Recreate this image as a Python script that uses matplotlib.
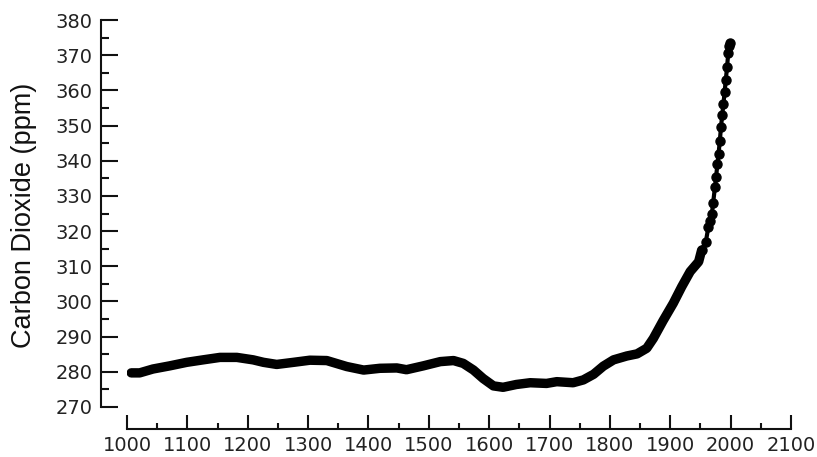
import matplotlib
matplotlib.use("Agg")
import matplotlib.pyplot as plt
from matplotlib.ticker import MultipleLocator

# Ice-core record, drawn as a continuous heavy band
ICE_YEARS = [1007, 1021, 1043, 1071, 1099, 1126, 1154, 1182, 1209, 1226,
             1248, 1276, 1303, 1331, 1364, 1392, 1419, 1447, 1463, 1491,
             1519, 1541, 1557, 1574, 1590, 1607, 1623, 1645, 1668, 1695,
             1712, 1739, 1756, 1773, 1789, 1806, 1828, 1845, 1861, 1872,
             1888, 1905, 1919, 1933, 1947, 1952]
ICE_CO2 = [279.7, 279.7, 280.8, 281.7, 282.7, 283.4, 284.1, 284.1, 283.4, 282.7,
           282.1, 282.7, 283.3, 283.2, 281.5, 280.5, 281.0, 281.1, 280.6, 281.7,
           282.9, 283.2, 282.4, 280.5, 278.1, 276.0, 275.6, 276.4, 276.9, 276.7,
           277.2, 276.9, 277.7, 279.3, 281.6, 283.4, 284.5, 285.1, 286.7, 289.5,
           294.5, 299.5, 304.2, 308.5, 311.3, 314.6]

# Recent measurements, drawn as dots
RECENT_YEARS = [1952, 1959, 1963, 1966, 1969, 1971, 1974, 1976, 1978, 1980,
                1982, 1984, 1986, 1988, 1990, 1992, 1994, 1996, 1998, 1999]
RECENT_CO2 = [314.6, 317.0, 321.1, 323.0, 325.0, 328.0, 332.5, 335.5, 339.0, 342.0,
              345.5, 349.5, 353.0, 356.0, 359.5, 363.0, 366.5, 370.5, 372.5, 373.6]

fig = plt.figure(figsize=(8.17, 4.57), dpi=100)
ax = fig.add_axes([127 / 817, 1 - 407 / 457, 664 / 817, 387 / 457])

ax.plot(ICE_YEARS, ICE_CO2, color="black", linewidth=6.8,
        solid_capstyle="round", solid_joinstyle="round")
ax.plot(RECENT_YEARS, RECENT_CO2, color="black", linewidth=3,
        marker="o", markersize=6.5)

ax.set_xlim(1000, 2100)
ax.set_ylim(270, 380)

ax.xaxis.set_major_locator(MultipleLocator(100))
ax.xaxis.set_minor_locator(MultipleLocator(50))
ax.yaxis.set_major_locator(MultipleLocator(10))
ax.yaxis.set_minor_locator(MultipleLocator(5))

for side in ("top", "right"):
    ax.spines[side].set_visible(False)
ax.spines["left"].set_position(("outward", 18.7))
ax.spines["bottom"].set_position(("outward", 15.8))
ax.spines["left"].set_bounds(270, 380)
ax.spines["bottom"].set_bounds(1000, 2100)
for side in ("left", "bottom"):
    ax.spines[side].set_linewidth(1.5)
    ax.spines[side].set_color("#111111")

ax.tick_params(axis="y", which="major", direction="in", length=12, width=1.5,
               pad=6, labelsize=14, labelcolor="#222222", color="#111111")
ax.tick_params(axis="y", which="minor", direction="in", length=6, width=1.5,
               color="#111111")
ax.tick_params(axis="x", which="major", direction="in", length=10, width=1.5,
               pad=5, labelsize=14, labelcolor="#222222", color="#111111")
ax.tick_params(axis="x", which="minor", direction="in", length=4.5, width=1.5,
               color="#111111")

fig.text(24 / 817, 1 - 215 / 457, "Carbon Dioxide (ppm)", rotation=90,
         ha="center", va="center", fontsize=19.5, family="Liberation Sans",
         color="#111111")

fig.savefig("out.png", dpi=100, facecolor="white")
